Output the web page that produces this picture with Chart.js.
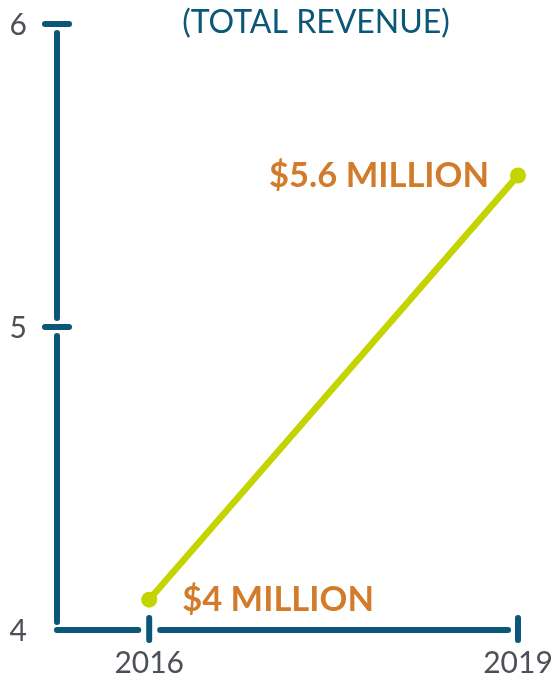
<!DOCTYPE html>
<html>
<head>
<meta charset="utf-8">
<script src="https://cdn.jsdelivr.net/npm/chart.js@4"></script>
<style>
  html, body { margin: 0; padding: 0; background: #fff; }
  #wrap { width: 551px; height: 677px; position: relative; }
</style>
</head>
<body>
<div id="wrap"><canvas id="revenue-chart"></canvas></div>
<script>
const years = [2016, 2019];
const revenue = [4.1, 5.5];
const pointLabels = ['$4 MILLION', '$5.6 MILLION'];
const yTicks = [4, 5, 6];
const titleText = '(TOTAL REVENUE)';

const AXIS = '#0b5777';
const TICK_COLOR = '#4d5157';
const FONT = 'Lato, "Open Sans", sans-serif';

// axes with gaps round the tick marks, tick labels, title and value labels
const decor = {
  id: 'decor',
  beforeDatasetsDraw(chart) {
    const ctx = chart.ctx;
    const x = chart.scales.x, y = chart.scales.y;
    const ax = chart.chartArea.left, ay = y.getPixelForValue(4);
    ctx.save();
    ctx.strokeStyle = AXIS;
    ctx.lineWidth = 6;
    ctx.lineCap = 'round';
    const seg = (x1, y1, x2, y2) => {
      ctx.beginPath(); ctx.moveTo(x1, y1); ctx.lineTo(x2, y2); ctx.stroke();
    };
    // y axis
    seg(ax, y.getPixelForValue(6) + 9, ax, y.getPixelForValue(5) - 9);
    seg(ax, y.getPixelForValue(5) + 9, ax, ay - 8);
    [6, 5].forEach(v => {
      const py = y.getPixelForValue(v);
      seg(ax - 12, py, ax + 12, py);
    });
    // x axis
    const xs = years.map(v => x.getPixelForValue(v));
    seg(ax, ay, xs[0] - 11, ay);
    seg(xs[0] + 11, ay, xs[1] - 10, ay);
    xs.forEach(px => seg(px, ay - 12, px, ay + 10));

    // tick labels
    ctx.fillStyle = TICK_COLOR;
    ctx.font = '30px ' + FONT;
    ctx.textBaseline = 'middle';
    ctx.textAlign = 'right';
    yTicks.forEach(v => ctx.fillText(String(v), ax - 30, y.getPixelForValue(v) + 1));
    ctx.textAlign = 'center';
    years.forEach((v, i) => ctx.fillText(String(v), xs[i], ay + 33));
    ctx.restore();
  },
  afterDatasetsDraw(chart) {
    const ctx = chart.ctx;
    const meta = chart.getDatasetMeta(0);
    ctx.save();
    ctx.textBaseline = 'middle';
    ctx.fillStyle = '#d27b2b';
    ctx.font = 'bold 34.5px ' + FONT;
    const p0 = meta.data[0], p1 = meta.data[1];
    ctx.textAlign = 'left';
    ctx.fillText(pointLabels[0], p0.x + 33, p0.y);
    ctx.textAlign = 'right';
    ctx.fillText(pointLabels[1], p1.x - 29, p1.y);
    // title
    ctx.fillStyle = AXIS;
    ctx.font = '32px ' + FONT;
    ctx.textAlign = 'center';
    ctx.fillText(titleText, 316, 23);
    ctx.restore();
  }
};

new Chart(document.getElementById('revenue-chart'), {
  type: 'line',
  data: {
    datasets: [{
      data: years.map((yr, i) => ({ x: yr, y: revenue[i] })),
      borderColor: '#c3d400',
      backgroundColor: '#c3d400',
      borderWidth: 6.5,
      pointRadius: 8,
      pointBorderWidth: 0,
      clip: false
    }]
  },
  plugins: [decor],
  options: {
    responsive: true,
    maintainAspectRatio: false,
    animation: false,
    layout: { padding: { top: 24, right: 33, bottom: 0, left: 0 } },
    plugins: { legend: { display: false }, tooltip: { enabled: false } },
    scales: {
      x: {
        type: 'linear',
        min: 2015.25,
        max: 2019,
        afterFit: s => { s.height = 47; },
        grid: { display: false },
        border: { display: false },
        ticks: { display: false }
      },
      y: {
        min: 4,
        max: 6,
        afterFit: s => { s.width = 57; },
        grid: { display: false },
        border: { display: false },
        ticks: { display: false }
      }
    }
  }
});
</script>
</body>
</html>
